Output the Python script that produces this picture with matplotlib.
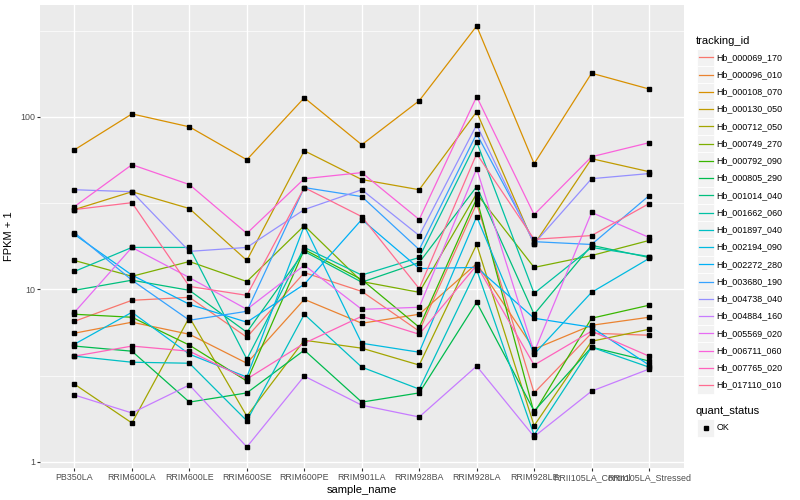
import matplotlib
matplotlib.use("Agg")
import matplotlib.pyplot as plt
import numpy as np
from matplotlib.lines import Line2D
from matplotlib.patches import Rectangle

plt.rcParams['font.family'] = ['Liberation Sans', 'DejaVu Sans']

samples = ['PB350LA', 'RRIM600LA', 'RRIM600LE', 'RRIM600SE', 'RRIM600PE',
           'RRIM901LA', 'RRIM928BA', 'RRIM928LA', 'RRIM928LE',
           'RRII105LA_Control', 'RRII105LA_Stressed']

tracking_ids = ['Hb_000069_170', 'Hb_000096_010', 'Hb_000108_070', 'Hb_000130_050',
                'Hb_000712_050', 'Hb_000749_270', 'Hb_000792_090', 'Hb_000805_290',
                'Hb_001014_040', 'Hb_001662_060', 'Hb_001897_040', 'Hb_002194_090',
                'Hb_002272_280', 'Hb_003680_190', 'Hb_004738_040', 'Hb_004884_160',
                'Hb_005569_020', 'Hb_006711_060', 'Hb_007765_020', 'Hb_017110_010']

# ggplot hue palette, 20 levels
colors = ['#F8766D', '#EA8331', '#D89000', '#C09B00', '#A3A500', '#7CAE00',
          '#39B600', '#00BB4E', '#00BF7D', '#00C1A3', '#00BFC4', '#00BAE0',
          '#00B0F6', '#35A2FF', '#9590FF', '#C77CFF', '#E76BF3', '#FA62DB',
          '#FF62BC', '#FF6C91']

# FPKM + 1 per sample (order of samples)
hb_000069_170 = [6.53, 8.64, 8.99, 5.28, 12.5, 9.73, 5.72, 31.4, 2.51, 5.57, 5.42]
hb_000096_010 = [5.57, 6.45, 5.49, 3.73, 8.75, 6.36, 7.17, 14.1, 4.50, 6.19, 6.89]
hb_000108_070 = [64.4, 104, 87.5, 56.4, 129, 68.9, 124, 336, 53.5, 179, 145]
hb_000130_050 = [29.0, 36.8, 29.4, 14.7, 63.6, 43.3, 37.8, 107, 18.2, 57.2, 48.1]
hb_000712_050 = [2.82, 1.68, 6.89, 1.84, 5.07, 4.56, 3.64, 18.2, 1.62, 5.00, 5.87]
hb_000749_270 = [14.7, 11.9, 14.5, 11.1, 23.4, 11.1, 9.61, 35.9, 13.4, 15.7, 19.2]
hb_000792_090 = [7.17, 6.89, 4.75, 2.94, 17.0, 11.4, 6.03, 33.6, 1.92, 6.80, 8.09]
hb_000805_290 = [4.69, 4.38, 2.22, 2.51, 4.44, 2.22, 2.51, 8.41, 1.97, 4.62, 3.84]
hb_001014_040 = [9.87, 11.3, 9.87, 5.64, 16.6, 11.0, 14.3, 39.4, 7.17, 18.0, 15.3]
hb_001662_060 = [12.7, 17.5, 17.5, 3.94, 17.5, 12.1, 15.3, 71.7, 9.48, 17.5, 15.5]
hb_001897_040 = [4.10, 3.78, 3.73, 1.73, 7.17, 3.54, 2.64, 13.0, 1.43, 4.62, 3.54]
hb_002194_090 = [4.81, 7.36, 4.21, 3.10, 23.4, 4.87, 4.32, 26.4, 4.21, 9.61, 15.1]
hb_002272_280 = [20.8, 12.1, 8.19, 6.45, 10.7, 25.4, 13.2, 13.4, 6.80, 6.03, 3.64]
hb_003680_190 = [21.3, 11.3, 6.62, 7.46, 38.9, 34.5, 17.0, 79.8, 18.9, 18.2, 34.9]
hb_004738_040 = [37.8, 36.8, 16.6, 17.5, 29.0, 37.8, 20.5, 89.9, 18.4, 43.8, 46.9]
hb_004884_160 = [2.44, 1.92, 2.79, 1.22, 3.14, 2.13, 1.82, 3.59, 1.40, 2.57, 3.45]
hb_005569_020 = [7.36, 17.5, 11.7, 7.66, 13.8, 7.66, 7.87, 50.1, 4.32, 27.9, 20.0]
hb_006711_060 = [30.2, 52.8, 40.5, 21.1, 43.8, 47.5, 25.4, 131, 27.1, 58.7, 70.8]
hb_007765_020 = [4.10, 4.69, 4.38, 3.02, 4.87, 6.98, 5.49, 13.8, 3.64, 5.72, 4.10]
hb_017110_010 = [29.0, 31.8, 10.4, 9.23, 38.9, 26.4, 10.1, 61.1, 19.5, 20.5, 31.4]

series = [hb_000069_170, hb_000096_010, hb_000108_070, hb_000130_050, hb_000712_050,
          hb_000749_270, hb_000792_090, hb_000805_290, hb_001014_040, hb_001662_060,
          hb_001897_040, hb_002194_090, hb_002272_280, hb_003680_190, hb_004738_040,
          hb_004884_160, hb_005569_020, hb_006711_060, hb_007765_020, hb_017110_010]

W, H = 800, 500
fig = plt.figure(figsize=(8, 5), dpi=100)
ax = fig.add_axes([40 / W, 1 - 468 / H, (683.5 - 40) / W, (468 - 5) / H])
ax.set_facecolor('#EBEBEB')
for s in ax.spines.values():
    s.set_visible(False)

x = np.arange(len(samples))
for vals, c in zip(series, colors):
    ax.plot(x, vals, color=c, lw=0.9, zorder=2)
for vals in series:
    ax.plot(x, vals, ls='none', marker='s', ms=2.3, color='black', zorder=3)

ax.set_yscale('log')
lo = np.log10(min(min(v) for v in series))
hi = np.log10(max(max(v) for v in series))
pad = 0.05 * (hi - lo)
ax.set_ylim(10 ** (lo - pad), 10 ** (hi + pad))
ax.set_xlim(-0.6, len(samples) - 0.4)

ax.set_yticks([1, 10, 100])
ax.set_yticklabels(['1', '10', '100'])
ax.set_yticks([10 ** 0.5, 10 ** 1.5, 10 ** 2.5], minor=True)
ax.yaxis.set_minor_formatter(matplotlib.ticker.NullFormatter())
ax.set_xticks(x)
ax.set_xticklabels(samples)

ax.grid(True, which='major', color='white', lw=1.0, zorder=0)
ax.grid(True, which='minor', axis='y', color='white', lw=0.5, zorder=0)
ax.set_axisbelow(True)
ax.tick_params(which='major', length=2.2, width=0.8, color='#333333',
               labelcolor='#4D4D4D', labelsize=6.4, pad=1.5)
ax.tick_params(which='minor', length=0)

ax.set_xlabel('sample_name', fontsize=8, labelpad=2)
ax.set_ylabel('FPKM + 1', fontsize=8, labelpad=4)

# legend, drawn like ggplot guides
def fx(px):
    return px / W

def fy(py):
    return 1 - py / H

fig.text(fx(696), fy(40.5), 'tracking_id', fontsize=8, va='center', ha='left')
step = 17.25
for i, (name, c) in enumerate(zip(tracking_ids, colors)):
    yc = 57.3 + i * step
    fig.patches.append(Rectangle((fx(697), fy(yc + step / 2)), 17.25 / W, step / H,
                                 transform=fig.transFigure, facecolor='#F2F2F2',
                                 edgecolor='white', lw=0.6))
    fig.lines.append(Line2D([fx(698.5), fx(712.7)], [fy(yc), fy(yc)],
                            transform=fig.transFigure, color=c, lw=0.9))
    fig.text(fx(716.5), fy(yc), name, fontsize=6.4, va='center', ha='left')

fig.text(fx(696), fy(411.5), 'quant_status', fontsize=8, va='center', ha='left')
fig.patches.append(Rectangle((fx(697), fy(428 + step / 2)), 17.25 / W, step / H,
                             transform=fig.transFigure, facecolor='#F2F2F2',
                             edgecolor='white', lw=0.6))
fig.lines.append(Line2D([fx(705.6)], [fy(428)], transform=fig.transFigure,
                        ls='none', marker='s', ms=2.3, color='black'))
fig.text(fx(716.5), fy(428), 'OK', fontsize=6.4, va='center', ha='left')

fig.savefig('out.png', dpi=100)
